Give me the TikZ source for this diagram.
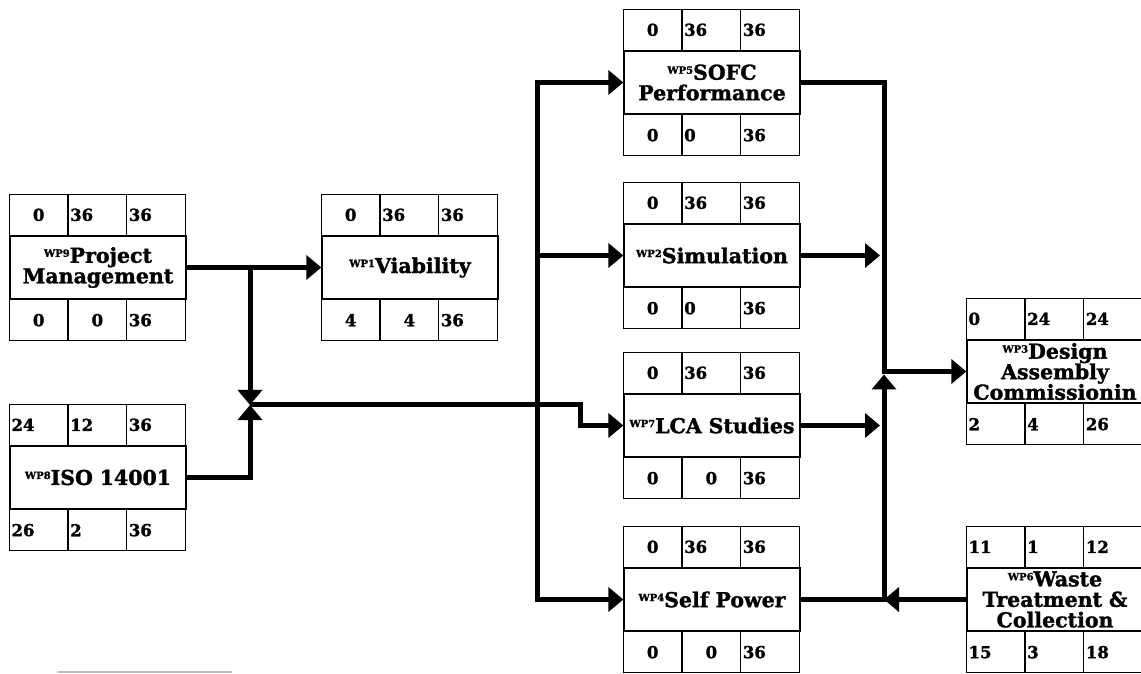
\documentclass[tikz,border=0pt]{standalone}
\usepackage{fontspec}
\setmainfont{DejaVu Serif}[BoldFeatures={FakeBold=1.5}]
\usetikzlibrary{arrows.meta,calc}

\newcommand\wplab[1]{\raisebox{6pt}{\fontsize{10}{10}\selectfont #1}}
% top and bottom rows of a work package box
\newcommand\wpcells[3]{%
  \draw[cellline] (#1.north west) rectangle ++(176,41);
  \draw[cellline] (#1.south west) rectangle ++(176,-41);
  \foreach \i in {1,2} {
    \draw[cellline] (#1.north west) ++(\i*58.67,0) -- ++(0,41);
    \draw[cellline] (#1.south west) ++(\i*58.67,0) -- ++(0,-41);
  }
  \foreach \al/\v [count=\c from 0] in {#2}
    \node[num\al] (#1-t\c) at ($(#1.north west)+(\c*58.67,20.5)$) {\v};
  \foreach \al/\v [count=\c from 0] in {#3}
    \node[num\al] (#1-b\c) at ($(#1.south west)+(\c*58.67,-20.5)$) {\v};
}

\tikzset{
  cellline/.style={line width=1.3pt},
  wpbox/.style={draw, line width=1.3pt, minimum height=63pt, text width=176pt,
    inner sep=0pt, align=center, font=\fontsize{20.5}{20.5}\selectfont\bfseries},
  numc/.style={anchor=center, xshift=29.33pt, inner sep=0pt, font=\fontsize{16.5}{16.5}\selectfont\bfseries},
  numl/.style={anchor=west, xshift=2pt, inner sep=0pt, font=\fontsize{16.5}{16.5}\selectfont\bfseries},
  link/.style={line width=5pt},
  flow/.style={link, -{Triangle[length=15pt,width=24pt]}},
  bothflow/.style={link, {Triangle[length=15pt,width=24pt]}-{Triangle[length=15pt,width=24pt]}},
}

\begin{document}
\begin{tikzpicture}[x=1pt, y=1pt]
  \useasboundingbox (0,0) rectangle (1141,673);

  % work packages
  \node[wpbox] (wp9) at (98,405.5) {\wplab{WP9}Project\\Management};
  \node[wpbox] (wp1) at (410,405.5) {\wplab{WP1}Viability};
  \node[wpbox] (wp8) at (98,195.5) {\wplab{WP8}ISO 14001};
  \node[wpbox] (wp5) at (712,590.5) {\wplab{WP5}SOFC\\Performance};
  \node[wpbox] (wp2) at (712,417.5) {\wplab{WP2}Simulation};
  \node[wpbox] (wp7) at (712,247.5) {\wplab{WP7}LCA Studies};
  \node[wpbox] (wp4) at (712,73.5) {\wplab{WP4}Self Power};
  \node[wpbox] (wp3) at (1055,301.5) {\wplab{WP3}Design\\Assembly\\Commissionin};
  \node[wpbox] (wp6) at (1055,73.5) {\wplab{WP6}Waste\\Treatment \&\\Collection};

  \wpcells{wp9}{c/0,l/36,l/36}{c/0,c/0,l/36}
  \wpcells{wp1}{c/0,l/36,l/36}{c/4,c/4,l/36}
  \wpcells{wp8}{l/24,l/12,l/36}{l/26,l/2,l/36}
  \wpcells{wp5}{c/0,l/36,l/36}{c/0,l/0,l/36}
  \wpcells{wp2}{c/0,l/36,l/36}{c/0,l/0,l/36}
  \wpcells{wp7}{c/0,l/36,l/36}{c/0,c/0,l/36}
  \wpcells{wp4}{c/0,l/36,l/36}{c/0,c/0,l/36}
  \wpcells{wp3}{l/0,l/24,l/24}{l/2,l/4,l/26}
  \wpcells{wp6}{l/11,l/1,l/12}{l/15,l/3,l/18}

  % junctions
  \coordinate (jn) at (250,268);
  \coordinate (jog) at (580,0);
  \coordinate (bus) at (537,0);
  \coordinate (rbus) at (884,0);
  \coordinate (rtip) at (880,0);

  % left side
  \draw[flow] (wp9.east) -- (wp1.west);
  \draw[flow] (jn |- wp9.east) -- (jn);
  \draw[flow] (wp8.east) -| (jn);
  \draw[flow] (jn) -- (jog |- jn) |- (wp7.west);

  % distribution bus
  \draw[bothflow] (wp5.west) -| (bus |- wp4.west) -- (wp4.west);
  \draw[flow] (bus |- wp2.west) -- (wp2.west);

  % right side
  \draw[flow] (wp5.east) -| (rbus |- wp3.west) -- (wp3.west);
  \draw[flow] (wp2.east) -- (rtip |- wp2.east);
  \draw[flow] (wp7.east) -- (rtip |- wp7.east);
  \draw[flow] (wp6.west) -- (rbus |- wp6.west);
  \draw[flow] (wp4.east) -| ($(rbus |- wp3.west)+(0,-3)$);

  \draw[gray!55, line width=2pt] (58,1) -- (232,1);
\end{tikzpicture}
\end{document}
